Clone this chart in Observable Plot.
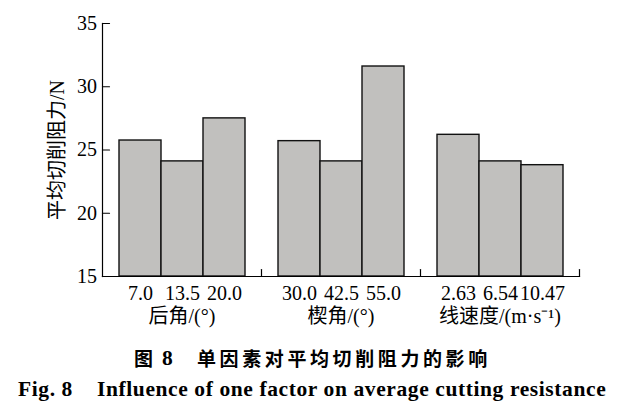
<!DOCTYPE html>
<html>
<head>
<meta charset="utf-8">
<script src="https://cdn.jsdelivr.net/npm/d3@7"></script>
<script src="https://cdn.jsdelivr.net/npm/@observablehq/plot@0.6"></script>
<style>
  body { margin: 0; background: #fff; }
  #wrap { position: relative; width: 630px; height: 408px; }
  #chart svg, #chart svg text { font-family: "Liberation Serif", "Noto Sans CJK SC", serif !important; }
  .cap { position: absolute; white-space: pre; color: #000; font-weight: 700; }
  .zh { font-family: "Noto Sans CJK SC", sans-serif; font-size: 19px; line-height: 26px; letter-spacing: 3.6px; top: 345px; }
  .num { font-family: "Liberation Serif", serif; font-size: 21.5px; line-height: 26px; top: 345px; }
  .en { font-family: "Liberation Serif", serif; font-size: 21.5px; line-height: 26px; top: 376px; letter-spacing: 0.6px; }
</style>
</head>
<body>
<div id="wrap">
  <div id="chart"></div>
  <span class="cap zh" style="left:134px">图</span>
  <span class="cap num" style="left:162px">8</span>
  <span class="cap zh" style="left:197px">单因素对平均切削阻力的影响</span>
  <span class="cap en" style="left:18px">Fig. 8</span>
  <span class="cap en" style="left:97px">Influence of one factor on average cutting resistance</span>
</div>
<script>
// Factors (groups) and their axis titles
const groups = ["后角/(°)", "楔角/(°)", "线速度/(m·s⁻¹)"];
// Levels of each factor (tick labels)
const levelsRelief = ["7.0", "13.5", "20.0"];
const levelsWedge = ["30.0", "42.5", "55.0"];
const levelsSpeed = ["2.63", "6.54", "10.47"];
// Average cutting resistance (N)
const valuesRelief = [25.75, 24.1, 27.5];
const valuesWedge = [25.7, 24.1, 31.6];
const valuesSpeed = [26.2, 24.1, 23.8];
const yTicks = [15, 20, 25, 30, 35];
const yTitle = "平均切削阻力/N";

const levels = [levelsRelief, levelsWedge, levelsSpeed];
const values = [valuesRelief, valuesWedge, valuesSpeed];
const rows = groups.flatMap((g, gi) =>
  levels[gi].map((lv, i) => ({group: g, idx: i, level: lv, value: values[gi][i]}))
);

const serif = `"Liberation Serif", "Noto Sans CJK SC", serif`;
// plain straight tick (vector shape drawn pointing up, then rotated)
const tickShape = {draw(context, l) { context.moveTo(0, 0); context.lineTo(0, -l); }};

const chart = Plot.plot({
  width: 630,
  height: 338,
  marginLeft: 102,
  marginRight: 51,
  marginTop: 23,
  marginBottom: 62,
  fx: {domain: groups, padding: 0, axis: null},
  x: {domain: [0, 1, 2], paddingInner: 0, paddingOuter: 0.39, axis: null},
  y: {domain: [15, 35], axis: null},
  marks: [
    Plot.barY(rows, {fx: "group", x: "idx", y1: 15, y2: "value", fill: "#c1c0be", stroke: "#111", strokeWidth: 1.4}),
    Plot.axisY({ticks: yTicks, tickSize: 0, tickPadding: 5.5, label: null, fontSize: 20, fill: "#000", fontFamily: serif}),
    Plot.vector(yTicks, {y: d => d, fx: () => groups[0], frameAnchor: "left", rotate: 90, length: 7, anchor: "start", shape: tickShape, stroke: "#000", strokeWidth: 1.2}),
    Plot.frame({anchor: "left", facetAnchor: "left", stroke: "#000", strokeWidth: 1.2}),
    Plot.frame({anchor: "bottom", stroke: "#000", strokeWidth: 1.2}),
    Plot.vector(groups, {fx: d => d, frameAnchor: "bottom-right", rotate: 0, length: 7, anchor: "start", shape: tickShape, stroke: "#000", strokeWidth: 1.2}),
    Plot.text(rows, {fx: "group", x: "idx", frameAnchor: "bottom", dy: 23, text: "level", fontSize: 20, fill: "#000", fontFamily: serif}),
    Plot.text(groups, {fx: d => d, frameAnchor: "bottom", dy: 46, text: d => d, fontSize: 20, fill: "#000", fontFamily: serif}),
    Plot.text([yTitle], {fx: () => groups[0], frameAnchor: "left", textAnchor: "middle", rotate: -90, dx: -45, text: d => d, fontSize: 20, fill: "#000", fontFamily: serif})
  ]
});
document.getElementById("chart").appendChild(chart);
</script>
</body>
</html>
